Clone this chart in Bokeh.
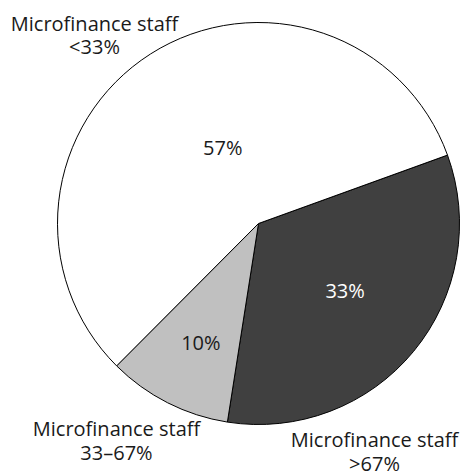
import math
from bokeh.plotting import figure
from bokeh.models import Range1d, ColumnDataSource
from bokeh.core.properties import value
from bokeh.embed import file_html
from bokeh.resources import INLINE

# ---- data ----
categories = ["Microfinance staff >67%", "Microfinance staff 33–67%", "Microfinance staff <33%"]
shares = [33, 10, 57]
pct_labels = ["33%", "10%", "57%"]
outer_line1 = ["Microfinance staff", "Microfinance staff", "Microfinance staff"]
outer_line2 = [">67%", "33–67%", "<33%"]

# ---- style ----
colors = ["#404040", "#c0c0c0", "#ffffff"]
pct_colors = ["white", "#1a1a1a", "#1a1a1a"]
start_deg = 19.9
FONT = "Open Sans"
FS = "20px"

W, H = 461, 476
scale = 201.0  # px per unit radius
cx_px, cy_px = 258.0, 223.0  # pie centre inside plot frame (px from left / top)

p = figure(width=W, height=H, output_backend="svg", toolbar_location=None,
           x_range=Range1d(-cx_px / scale, (W - cx_px) / scale),
           y_range=Range1d(-(H - cy_px) / scale, cy_px / scale),
           min_border=0)
p.axis.visible = False
p.grid.visible = False
p.outline_line_color = None
p.background_fill_color = "white"

total = float(sum(shares))
starts, ends, mids = [], [], []
a = math.radians(start_deg)
for s in shares:
    span = 2 * math.pi * s / total
    ends.append(a)
    starts.append(a - span)
    mids.append(a - span / 2)
    a -= span

src = ColumnDataSource(dict(start=starts, end=ends, color=colors))
p.wedge(x=0, y=0, radius=1.0, start_angle="start", end_angle="end",
        fill_color="color", line_color="black", line_width=1, source=src)

# percentage labels (polar offsets from slice mid-angle)
label_r = [0.545, 0.66, 0.42]
label_shift = [0.03, 0.02, -0.13]
lx = [r * math.cos(m + d) for r, m, d in zip(label_r, mids, label_shift)]
ly = [r * math.sin(m + d) for r, m, d in zip(label_r, mids, label_shift)]
p.text(x=lx, y=ly, text=pct_labels, text_color=pct_colors,
       text_font=value(FONT), text_font_size=FS,
       text_align="center", text_baseline="middle")

# outer labels (positions in plot px relative to centre)
ox = [(374 - cx_px) / scale, (116 - cx_px) / scale, (94 - cx_px) / scale]
oy1 = [(cy_px - 439) / scale, (cy_px - 428) / scale, (cy_px - 23) / scale]
oy2 = [(cy_px - 463) / scale, (cy_px - 452) / scale, (cy_px - 46) / scale]
p.text(x=ox, y=oy1, text=outer_line1, text_color="#1a1a1a",
       text_font=value(FONT), text_font_size=FS,
       text_align="center", text_baseline="middle")
p.text(x=ox, y=oy2, text=outer_line2, text_color="#1a1a1a",
       text_font=value(FONT), text_font_size=FS,
       text_align="center", text_baseline="middle")

open("out.html", "w").write(file_html(p, INLINE))
